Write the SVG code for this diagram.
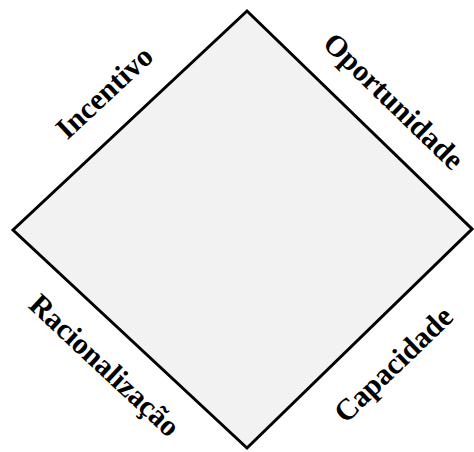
<svg xmlns="http://www.w3.org/2000/svg" width="474" height="452" viewBox="0 0 474 452">
<style>
.lbl{font-family:"Liberation Serif","Times New Roman",serif;font-weight:bold;font-size:30px;fill:#000;text-anchor:middle}
</style>
<rect width="474" height="452" fill="#fff"/>
<g id="diamond">
<polygon points="247,11 472,229 247,448 13,230" fill="#f2f2f2" stroke="#000" stroke-width="3" stroke-linejoin="miter"/>
</g>
<g id="labels">
<text class="lbl" transform="translate(105,93) rotate(-43)" y="9">Incentivo</text>
<text class="lbl" transform="translate(393,102) rotate(44)" y="9">Oportunidade</text>
<text class="lbl" transform="translate(104,366) rotate(43)" y="9">Racionalização</text>
<text class="lbl" transform="translate(394,365) rotate(-44)" y="9">Capacidade</text>
</g>
</svg>
